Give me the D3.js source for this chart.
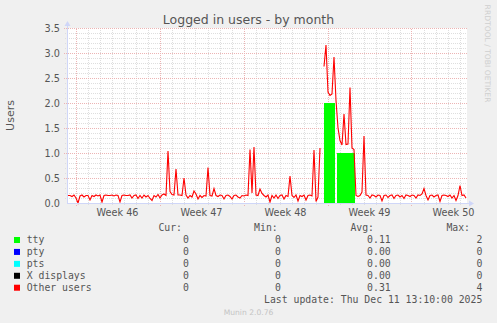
<!DOCTYPE html>
<html>
<head>
<meta charset="utf-8">
<script src="https://cdn.jsdelivr.net/npm/d3@7"></script>
<style>
  body { margin: 0; background: #f0f0f0; }
  svg { display: block; font-family: "DejaVu Sans", sans-serif; }
  .mono { font-family: "DejaVu Sans Mono", monospace; }
</style>
</head>
<body>
<svg id="chart" width="497" height="323"></svg>
<script>
//begin: data
// one sample every 4 hours, 200 samples over the month window
const stepHours = 4;
const spanHours = 800;
const firstWeekHour = 17; // first week boundary, hours after the start of the window

const otherUsers = [
  0.15,0.15,0.13,0.16,0.10,0.00,0.14,0.16,0.12,0.15,0.15,0.06,0.15,0.13,0.16,0.14,0.16,0.02,0.15,0.16,
  0.15,0.15,0.16,0.14,0.16,0.15,0.02,0.15,0.16,0.15,0.15,0.16,0.10,0.15,0.16,0.09,0.15,0.10,0.16,0.12,
  0.15,0.09,0.05,0.15,0.12,0.17,0.10,0.16,0.18,0.15,1.04,0.23,0.17,0.16,0.68,0.16,0.16,0.15,0.50,0.16,
  0.10,0.15,0.12,0.24,0.18,0.08,0.15,0.11,0.15,0.14,0.71,0.15,0.14,0.29,0.15,0.13,0.16,0.15,0.08,0.15,
  0.16,0.13,0.08,0.15,0.16,0.12,0.10,0.15,0.14,0.16,0.15,1.07,0.20,1.12,0.16,0.15,0.28,0.19,0.15,0.12,
  0.16,0.02,0.15,0.10,0.16,0.09,0.15,0.16,0.08,0.15,0.13,0.54,0.15,0.11,0.16,0.04,0.15,0.13,0.16,0.06,
  0.15,0.16,0.14,1.06,0.03,0.12,1.10,null,0.73,1.16,0.22,0.15,0.18,0.92,2.05,0.50,0.25,0.16,0.78,0.17,
  0.18,1.31,0.10,0.07,0.15,0.13,0.15,0.22,1.34,0.16,0.15,0.10,0.16,0.15,0.12,0.16,0.15,0.04,0.15,0.16,
  0.11,0.15,0.16,0.09,0.15,0.16,0.12,0.15,0.09,0.16,0.15,0.13,0.16,0.15,0.10,0.16,0.15,0.18,0.29,0.15,
  0.06,0.15,0.16,0.12,0.15,0.16,0.03,0.15,0.16,0.15,0.13,0.16,0.10,0.15,0.05,0.15,0.35,0.15,0.16,0.10
];

const ttyUsers = [
  0,0,0,0,0,0,0,0,0,0,0,0,0,0,0,0,0,0,0,0,
  0,0,0,0,0,0,0,0,0,0,0,0,0,0,0,0,0,0,0,0,
  0,0,0,0,0,0,0,0,0,0,0,0,0,0,0,0,0,0,0,0,
  0,0,0,0,0,0,0,0,0,0,0,0,0,0,0,0,0,0,0,0,
  0,0,0,0,0,0,0,0,0,0,0,0,0,0,0,0,0,0,0,0,
  0,0,0,0,0,0,0,0,0,0,0,0,0,0,0,0,0,0,0,0,
  0,0,0,0,0,0,0,null,2,2,2,2,2,2,0,1,1,1,1,1,
  1,1,1,1,0,0,0,0,0,0,0,0,0,0,0,0,0,0,0,0,
  0,0,0,0,0,0,0,0,0,0,0,0,0,0,0,0,0,0,0,0,
  0,0,0,0,0,0,0,0,0,0,0,0,0,0,0,0,0,0,0,0
];

const weekLabels = ["Week 46", "Week 47", "Week 48", "Week 49", "Week 50"];

const legendNames = ["tty", "pty", "pts", "X displays", "Other users"];
const curValues = ["0", "0", "0", "0", "0"];
const minValues = ["0", "0", "0", "0", "0"];
const avgValues = ["0.11", "0.00", "0.00", "0.00", "0.31"];
const maxValues = ["2", "0", "0", "0", "4"];
const lastUpdate = "Last update: Thu Dec 11 13:10:00 2025";
//end: data

//begin: style conf.
const legendColors = ["#00ff00", "#0000ff", "#00ffff", "#000000", "#ff0000"];
const fontColor = "#555";
const axisColor = "#cfd6f8";
const minorGridColor = "#dedede";
const majorGridColor = "#ecb4b4";
//end: style conf.

const plot = { left: 67, right: 467, top: 28, bottom: 203 };

const x = d3.scaleLinear().domain([0, spanHours]).range([plot.left, plot.right]);
const y = d3.scaleLinear().domain([0, 3.5]).range([plot.bottom, plot.top]);
const px = v => Math.round(v) + 0.5;

const svg = d3.select("#chart");

// canvas
svg.append("rect")
  .attr("x", plot.left).attr("y", plot.top)
  .attr("width", plot.right - plot.left).attr("height", plot.bottom - plot.top)
  .attr("fill", "#fff");

// grid
const grid = svg.append("g").attr("shape-rendering", "crispEdges")
  .attr("stroke-width", 1).attr("stroke-dasharray", "1,1");

const dayHours = d3.range(firstWeekHour, spanHours, 24);
const weekHours = d3.range(firstWeekHour, spanHours, 168);
const minorY = y.ticks(35);
const majorY = y.ticks(7);

grid.selectAll(".vmin").data(dayHours.filter(h => (h - firstWeekHour) % 168 !== 0))
  .enter().append("line")
  .attr("x1", d => px(x(d))).attr("x2", d => px(x(d)))
  .attr("y1", plot.bottom + 2).attr("y2", plot.top)
  .attr("stroke", minorGridColor);

grid.selectAll(".hmin").data(minorY.filter(v => Math.round(v * 10) % 5 !== 0))
  .enter().append("line")
  .attr("x1", plot.left - 2).attr("x2", plot.right)
  .attr("y1", d => px(y(d))).attr("y2", d => px(y(d)))
  .attr("stroke", minorGridColor);

grid.selectAll(".vmaj").data(weekHours)
  .enter().append("line")
  .attr("x1", d => px(x(d))).attr("x2", d => px(x(d)))
  .attr("y1", plot.bottom + 3).attr("y2", plot.top)
  .attr("stroke", majorGridColor);

grid.selectAll(".hmaj").data(majorY.filter(v => v > 0))
  .enter().append("line")
  .attr("x1", plot.left - 3).attr("x2", plot.right)
  .attr("y1", d => px(y(d))).attr("y2", d => px(y(d)))
  .attr("stroke", majorGridColor);

// stacked data
const rows = otherUsers.map((v, i) => ({
  hour: i * stepHours + stepHours / 2,
  tty: ttyUsers[i],
  other: v
}));

const stacked = d3.stack()
  .keys(["tty", "other"])
  .value((d, key) => d[key] == null ? 0 : d[key])(rows);

const ttyArea = d3.area()
  .curve(d3.curveStep)
  .defined(d => d.data.tty != null)
  .x(d => x(d.data.hour))
  .y0(d => y(d[0]))
  .y1(d => y(d[1]));

svg.append("path")
  .datum(stacked[0])
  .attr("d", ttyArea)
  .attr("fill", legendColors[0]);

const otherLine = d3.line()
  .defined(d => d.data.other != null)
  .x(d => x(d.data.hour))
  .y(d => y(d[1]));

svg.append("path")
  .datum(stacked[1])
  .attr("d", otherLine)
  .attr("fill", "none")
  .attr("stroke", legendColors[4])
  .attr("stroke-width", 1.1);

// axes
const axis = svg.append("g");
axis.append("line")
  .attr("x1", plot.left).attr("x2", plot.right + 3)
  .attr("y1", plot.bottom + 0.5).attr("y2", plot.bottom + 0.5)
  .attr("stroke", axisColor).attr("shape-rendering", "crispEdges");
axis.append("line")
  .attr("x1", plot.left + 0.5).attr("x2", plot.left + 0.5)
  .attr("y1", plot.bottom + 1).attr("y2", plot.top - 3)
  .attr("stroke", axisColor).attr("shape-rendering", "crispEdges");
axis.append("path")
  .attr("d", `M${plot.right + 2},${plot.bottom - 2.5}L${plot.right + 7},${plot.bottom + 0.5}L${plot.right + 2},${plot.bottom + 3.5}Z`)
  .attr("fill", axisColor);
axis.append("path")
  .attr("d", `M${plot.left - 2.5},${plot.top - 2}L${plot.left + 0.5},${plot.top - 7}L${plot.left + 3.5},${plot.top - 2}Z`)
  .attr("fill", axisColor);

// y tick labels
svg.append("g").selectAll("text").data(majorY)
  .enter().append("text")
  .attr("x", plot.left - 7)
  .attr("y", d => y(d) + 3.5)
  .attr("text-anchor", "end")
  .attr("font-size", 9.7)
  .attr("fill", fontColor)
  .text(d3.format(".1f"));

// x week labels, centred in each week
svg.append("g").selectAll("text").data(weekHours)
  .enter().append("text")
  .attr("x", d => x(d + 84))
  .attr("y", plot.bottom + 13)
  .attr("text-anchor", "middle")
  .attr("font-size", 9.7)
  .attr("fill", fontColor)
  .text((d, i) => weekLabels[i]);

// title
svg.append("text")
  .attr("x", 248.5).attr("y", 24)
  .attr("text-anchor", "middle")
  .attr("font-size", 12.5)
  .attr("fill", fontColor)
  .text("Logged in users - by month");

// vertical label
svg.append("text")
  .attr("transform", `translate(14,${(plot.top + plot.bottom) / 2}) rotate(-90)`)
  .attr("text-anchor", "middle")
  .attr("font-size", 11)
  .attr("fill", fontColor)
  .text("Users");

// watermark
svg.append("text")
  .attr("transform", "translate(485,53.5) rotate(90)")
  .attr("text-anchor", "middle")
  .attr("font-size", 7.6)
  .attr("fill", "#cfcfcf")
  .text("RRDTOOL / TOBI OETIKER");

// legend
const legend = svg.append("g").attr("class", "mono").attr("font-size", 9.8).attr("fill", fontColor);
const headers = [["Cur:", 182], ["Min:", 277.7], ["Avg:", 374], ["Max:", 470]];
legend.selectAll(".hdr").data(headers)
  .enter().append("text")
  .attr("x", d => d[1]).attr("y", 230.7)
  .attr("text-anchor", "end")
  .text(d => d[0]);

const rowY = i => 243.3 + i * 11.93;
const legendRows = legend.selectAll(".row").data(legendNames)
  .enter().append("g");

legendRows.append("rect")
  .attr("x", 14).attr("y", (d, i) => rowY(i) - 6.3)
  .attr("width", 6).attr("height", 6)
  .attr("fill", (d, i) => legendColors[i]);
legendRows.append("text")
  .attr("x", 26.7).attr("y", (d, i) => rowY(i))
  .text(d => d);

const columns = [[curValues, 189], [minValues, 281], [avgValues, 390.7], [maxValues, 482.3]];
columns.forEach(([vals, right]) => {
  legendRows.append("text")
    .attr("x", right).attr("y", (d, i) => rowY(i))
    .attr("text-anchor", "end")
    .text((d, i) => vals[i]);
});

legend.append("text")
  .attr("x", 482.3).attr("y", 303.3)
  .attr("text-anchor", "end")
  .text(lastUpdate);

svg.append("text")
  .attr("x", 248.5).attr("y", 315)
  .attr("text-anchor", "middle")
  .attr("font-size", 7.6)
  .attr("fill", "#c4c4c4")
  .text("Munin 2.0.76");
</script>
</body>
</html>
